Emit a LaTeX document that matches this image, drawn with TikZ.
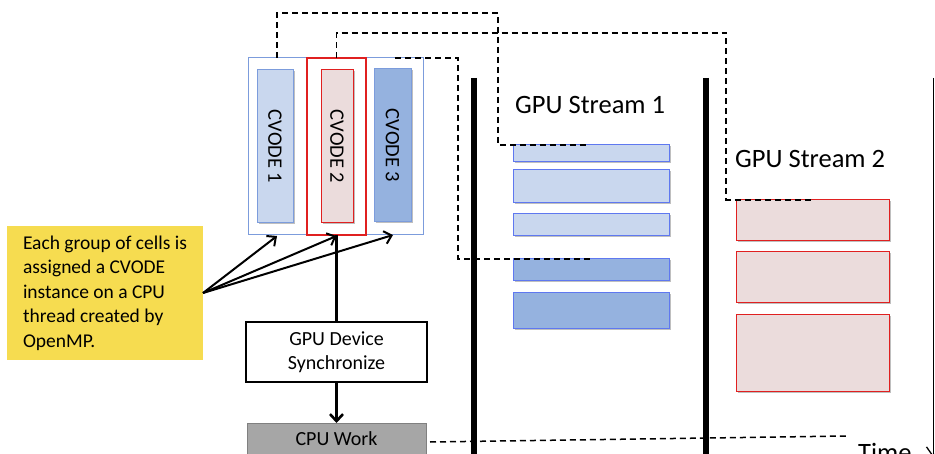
\documentclass[tikz,border=0pt]{standalone}
\usepackage{fontspec}
\setmainfont{Carlito}
\usetikzlibrary{calc,arrows.meta,shadows}
\definecolor{lblue}{HTML}{C9D7EE}
\definecolor{dblue}{HTML}{95B2DF}
\definecolor{bbord}{HTML}{7C9CDC}
\definecolor{sbord}{HTML}{5F78F0}
\definecolor{lpink}{HTML}{EBDCDC}
\definecolor{rbord}{HTML}{E02020}
\definecolor{yel}{HTML}{F6DC50}
\definecolor{cpug}{HTML}{A6A6A6}
\tikzset{
  box/.style={rectangle, anchor=north west, inner sep=0pt, outer sep=0pt},
  shad/.style={drop shadow={shadow xshift=1.5pt, shadow yshift=-1.5pt, opacity=0.25, fill=black}},
  cvtext/.style={font=\fontsize{20.5}{24}\selectfont, rotate=-90},
  sa/.style={box, shad, fill=lblue, draw=sbord, line width=1pt, minimum width=156pt},
  sb/.style={box, shad, fill=dblue, draw=sbord, line width=1pt, minimum width=156pt},
  sp/.style={box, shad, fill=lpink, draw=rbord, line width=1pt, minimum width=153pt},
  dline/.style={draw=black, line width=1.5pt, dash pattern=on 6pt off 4pt},
  bar/.style={line width=6pt},
  arr/.style={line width=2pt, -{Straight Barb[length=7pt,width=13pt]}},
  lbl/.style={anchor=base west, inner sep=0pt, font=\fontsize{26.5}{30}\selectfont}
}
\begin{document}
\begin{tikzpicture}[x=1pt,y=-1pt]
\useasboundingbox (0,0) rectangle (935,454);
\clip (0,0) rectangle (935,454);
% group boxes
\node[box, draw=bbord, line width=1pt, minimum width=175pt, minimum height=177pt] (g) at (248,58) {};
\node[box, draw=rbord, line width=1.3pt, minimum width=59pt, minimum height=177pt] (r) at (307,58) {};
% CVODE boxes
\node[box, shad, fill=lblue, draw=bbord, line width=1pt, minimum width=36pt, minimum height=153pt] (c1) at (257,70) {};
\node[cvtext] at (c1.center) {CVODE 1};
\node[box, shad, fill=lpink, draw=rbord, line width=1pt, minimum width=32pt, minimum height=153pt] (c2) at (321,70) {};
\node[cvtext] at (c2.center) {CVODE 2};
\node[box, shad, fill=dblue, draw=bbord, line width=1pt, minimum width=37pt, minimum height=153pt] (c3) at (374,69) {};
\node[cvtext] at (c3.center) {CVODE 3};
% stream 1 boxes
\node[sa, minimum height=17pt] (s1a) at (513,145) {};
\node[sa, minimum height=33pt] (s1b) at (513,170) {};
\node[sa, minimum height=22pt] (s1c) at (513,214) {};
\node[sb, minimum height=22pt] (s1d) at (513,259) {};
\node[sb, minimum height=36pt] (s1e) at (513,293) {};
% stream 2 boxes
\node[sp, minimum height=41pt] (s2a) at (736,200) {};
\node[sp, minimum height=51pt] (s2b) at (736,252) {};
\node[sp, minimum height=77pt] (s2c) at (736,315) {};
% labels
\node[lbl] (l1) at (515,114) {GPU Stream 1};
\node[lbl] (l2) at (735,168) {GPU Stream 2};
\node[lbl] (tm) at (858,461) {Time};
% bars
\draw[bar] (474,78) -- (474,460);
\draw[bar] (706,78) -- (706,460);
\draw[line width=1.3pt, -{Straight Barb[length=10pt,width=14pt]}] (933.5,78) -- (933.5,458);
% dashed connectors
\coordinate (d1) at ($(g.north west)+(29,0)$);
\coordinate (e1) at ($(s1a.north west)+(74,0)$);
\draw[dline] (d1) |- (498,13) |- (e1);
\coordinate (e2) at ($(s2a.north west)+(76,0)$);
\draw[dline] (r.north) |- (726,33) |- (e2);
\coordinate (d3) at ($(g.north east)+(-28,0)$);
\coordinate (e3) at ($(s1d.north west)+(77,0)$);
\draw[dline] (d3) -- (458,58) |- (e3);
% yellow note
\node[box, fill=yel, minimum width=196pt, minimum height=134pt, align=left, font=\fontsize{19.5}{24.5}\selectfont] (y) at (7,226) {Each group of cells is\\assigned a CVODE\\instance on a CPU\\thread created by\\OpenMP.};
\coordinate (t1) at ($(g.south west)+(29,1)$);
\coordinate (t3) at ($(g.south east)+(-30,0)$);
\draw[arr] (y.east) -- (t1);
\draw[arr] (y.east) -- ($(r.south)+(0,1)$);
\draw[arr] (y.east) -- (t3);
% sync and CPU work
\node[box, draw=black, fill=white, line width=1.2pt, minimum width=181pt, minimum height=60pt, align=center, font=\fontsize{20}{24}\selectfont] (sync) at (246,322) {GPU Device\\Synchronize};
\node[box, draw=gray, fill=cpug, line width=1pt, minimum width=179pt, minimum height=32pt, font=\fontsize{20}{24}\selectfont] (cpu) at (247,423) {CPU Work};
\draw[line width=2.6pt] (r.south) -- (sync.north);
\draw[line width=2.6pt, -{Straight Barb[length=7pt,width=13pt]}] (sync.south) -- (cpu.north);
\coordinate (tend) at (847,436);
\draw[dline] ($(cpu.east)+(4,3)$) -- (tend);
\end{tikzpicture}
\end{document}
